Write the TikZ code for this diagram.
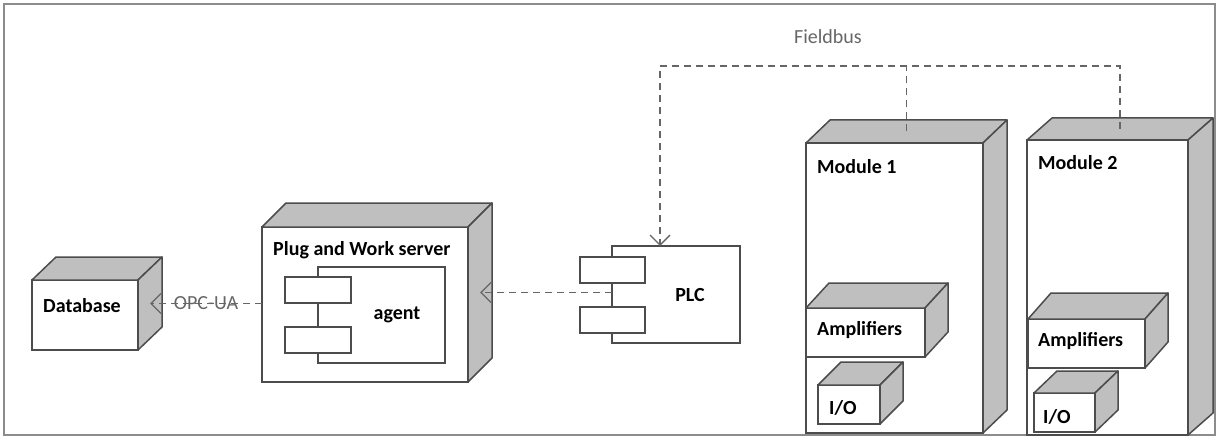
\documentclass[tikz,border=0pt]{standalone}
\usepackage{fontspec}
\setmainfont{Carlito}
\usetikzlibrary{arrows.meta}

\tikzset{
  front/.style={draw=black!70, line width=1.5pt, fill=white, anchor=north west, inner sep=0pt, outer sep=0pt},
  side/.style={draw=black!70, line width=1.5pt, fill=black!25, line join=round},
  dep/.style={draw=black!60, line width=1.4pt, dash pattern=on 7pt off 5pt},
  tip/.style={-{Straight Barb[length=10pt,width=20pt,line width=1.4pt]}},
  lbl/.style={inner sep=0pt, font=\fontsize{20}{24}\selectfont\bfseries},
  thin lbl/.style={inner sep=0pt, text=black!60, font=\fontsize{20}{24}\selectfont}
}

% top and side face of a box, #1 node, #2 #3 depth
\newcommand{\boxfaces}[3]{%
  \draw[side] (#1.north west) -- ++(#2pt,#3pt) -- ([shift={(#2pt,#3pt)}]#1.north east) -- (#1.north east) -- cycle;
  \draw[side] (#1.north east) -- ([shift={(#2pt,#3pt)}]#1.north east) -- ([shift={(#2pt,#3pt)}]#1.south east) -- (#1.south east) -- cycle;
}

\begin{document}
\begin{tikzpicture}[x=1pt, y=-1pt]
\useasboundingbox (0,0) rectangle (1218,441);
\draw[black!45, line width=2pt] (4,4) rectangle (1215,435);

% database
\node[front, minimum width=106pt, minimum height=70pt] (dbBox) at (32,280) {};
\boxfaces{dbBox}{24}{23}
\node[lbl] at (82,306) {Database};

% server with agent
\node[front, minimum width=206pt, minimum height=155pt] (serverBox) at (262,227) {};
\boxfaces{serverBox}{24}{24}
\node[lbl, anchor=west] at (273,250) {Plug and Work server};
\node[front, minimum width=127pt, minimum height=96pt] (agentComp) at (318,267) {};
\node[front, minimum width=66pt, minimum height=26pt] (agentPortA) at (285,277) {};
\node[front, minimum width=66pt, minimum height=26pt] (agentPortB) at (285,327) {};
\node[lbl] at (397,315) {agent};

% PLC
\node[front, minimum width=128pt, minimum height=97pt] (plcComp) at (612,246) {};
\node[front, minimum width=65pt, minimum height=26pt] (plcPortA) at (580,257) {};
\node[front, minimum width=65pt, minimum height=26pt] (plcPortB) at (580,307) {};
\node[lbl] at (690,295) {PLC};

% module 1
\node[front, minimum width=177pt, minimum height=290pt] (moduleOne) at (806,143) {};
\boxfaces{moduleOne}{24}{23}
\node[lbl, anchor=west] at (817,167) {Module 1};
\node[front, minimum width=119pt, minimum height=49pt] (ampOne) at (806,308) {};
\boxfaces{ampOne}{23}{25}
\node[lbl, anchor=west] at (817,330) {Amplifiers};
\node[front, minimum width=62pt, minimum height=39pt] (ioOne) at (818,385) {};
\boxfaces{ioOne}{23}{23}
\node[lbl, anchor=west] at (829,408) {I/O};

% module 2
\node[front, minimum width=161pt, minimum height=295pt] (moduleTwo) at (1027,140) {};
\boxfaces{moduleTwo}{25}{22}
\node[lbl, anchor=west] at (1038,163) {Module 2};
\node[front, minimum width=117pt, minimum height=49pt] (ampTwo) at (1028,319) {};
\boxfaces{ampTwo}{23}{26}
\node[lbl, anchor=west] at (1038,341) {Amplifiers};
\node[front, minimum width=61pt, minimum height=39pt] (ioTwo) at (1034,393) {};
\boxfaces{ioTwo}{23}{22}
\node[lbl, anchor=west] at (1043,417) {I/O};

% connectors
\coordinate (dbSide) at ([shift={(12pt,11.5pt)}]dbBox.east);
\coordinate (serverSide) at ([shift={(12pt,12pt)}]serverBox.east);
\coordinate (plcTop) at ([xshift=-16pt]plcComp.north);
\coordinate (m1Top) at ([shift={(12pt,11.5pt)}]moduleOne.north);
\coordinate (m2Top) at ([shift={(12.5pt,11pt)}]moduleTwo.north);
\coordinate (busLine) at (0,66);

\draw[dep, tip] (serverBox.west |- dbSide) -- (dbSide);
\node[thin lbl] (opcLabel) at (206,303) {OPC-UA};
\draw[dep, tip] (plcComp.west |- serverSide) -- (serverSide);
\draw[dep, tip] (m2Top) -- (m2Top |- busLine) -| (plcTop);
\draw[dep] (m1Top) -- (m1Top |- busLine);
\node[thin lbl] (busLabel) at (828,37) {Fieldbus};

\end{tikzpicture}
\end{document}
